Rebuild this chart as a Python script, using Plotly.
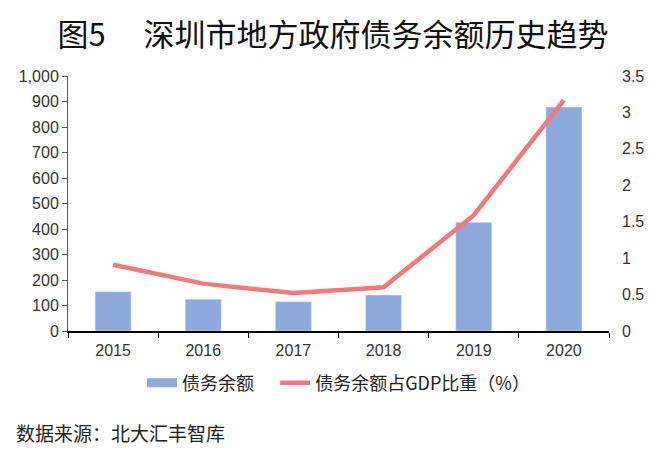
import plotly.graph_objects as go

years = ["2015", "2016", "2017", "2018", "2019", "2020"]
debt = [154, 125, 115, 141, 426, 878]
ratio = [0.91, 0.65, 0.52, 0.60, 1.59, 3.17]
left_ticks = [0, 100, 200, 300, 400, 500, 600, 700, 800, 900, 1000]
left_labels = ["0", "100", "200", "300", "400", "500", "600", "700", "800", "900", "1,000"]
right_ticks = [0, 0.5, 1, 1.5, 2, 2.5, 3, 3.5]
right_labels = ["0", "0.5", "1", "1.5", "2", "2.5", "3", "3.5"]

W, H = 650, 445
L, R, T, B = 60, 49, 68, 122
pw, ph = W - L - R, H - T - B
BLUE, RED = "#8EA9DB", "#F4777A"

fig = go.Figure()
fig.add_trace(go.Bar(x=years, y=debt, name="债务余额", marker_color=BLUE,
                     width=0.4, yaxis="y", showlegend=False, legendgroup="a"))
# legend-only entry giving the wide rectangular swatch of the bar series
fig.add_trace(go.Scatter(x=[None], y=[None], name="债务余额\u00a0\u00a0\u00a0\u00a0", mode="lines",
                         line=dict(color=BLUE, width=9), legendgroup="a",
                         showlegend=True, hoverinfo="skip"))
fig.add_trace(go.Scatter(x=years, y=ratio, name="债务余额占GDP比重（%）", mode="lines",
                         line=dict(color=RED, width=4.5), yaxis="y2"))

font_tick = dict(family="Liberation Sans, Arial, sans-serif", size=16, color="#333333")
fig.update_layout(
    width=W, height=H,
    margin=dict(l=L, r=R, t=T, b=B),
    paper_bgcolor="white", plot_bgcolor="white",
    font=dict(family="Noto Sans CJK SC", size=15, color="#222222"),
    title=dict(text="图5　 深圳市地方政府债务余额历史趋势", x=0.5, xanchor="center",
               y=1 - 27 / H, yanchor="middle",
               font=dict(family="Noto Sans CJK SC", size=31, color="#111111")),
    xaxis=dict(showline=True, linecolor="#000000", linewidth=1.5, ticks="outside",
               ticklen=5, tickcolor="#000000", tickson="boundaries",
               tickfont=font_tick, showgrid=False, ticklabelstandoff=4),
    yaxis=dict(range=[0, 1000], tickvals=left_ticks, ticktext=left_labels,
               showline=True, linecolor="#555555", linewidth=1, ticks="outside",
               ticklen=5, tickcolor="#555555", showgrid=False, tickfont=font_tick,
               zeroline=False),
    yaxis2=dict(range=[0, 3.5], tickvals=right_ticks, ticktext=right_labels,
                overlaying="y", side="right", showline=False, showgrid=False,
                tickfont=font_tick, zeroline=False, ticks="", ticklabelstandoff=12),
    legend=dict(orientation="h", x=0.5, xanchor="center", y=-52 / ph, yanchor="middle",
                font=dict(family="Noto Sans CJK SC", size=18, color="#222222"),
                traceorder="normal"),
    showlegend=True,
    bargap=0.6,
)
fig.add_annotation(text="数据来源：北大汇丰智库", xref="paper", yref="paper",
                   x=(6 - L) / pw, y=-101 / ph, xanchor="left", yanchor="middle",
                   showarrow=False, font=dict(family="Noto Sans CJK SC", size=19, color="#222222"))
fig.write_html("out.html")
